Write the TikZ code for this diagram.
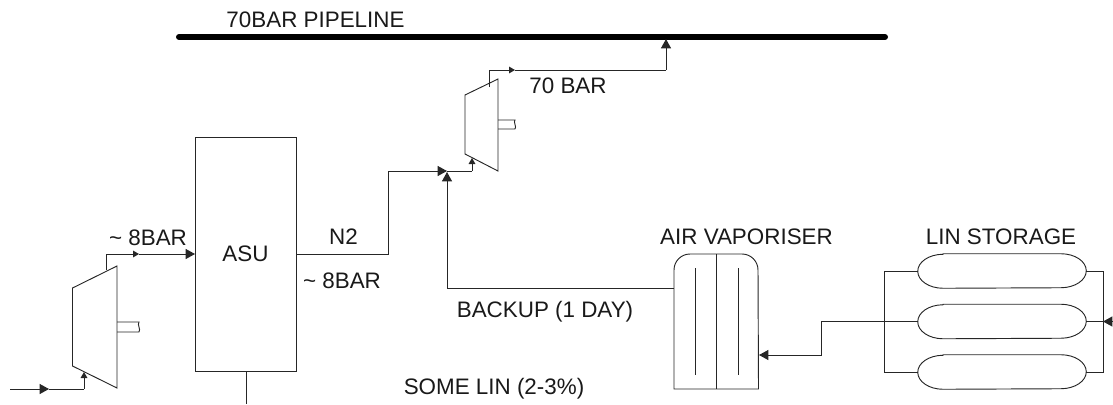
\documentclass[tikz,border=0pt]{standalone}
\usepackage{fontspec}
\setmainfont{Liberation Sans}
\usetikzlibrary{arrows.meta}
\tikzset{
  x=0.75pt,y=-0.75pt,
  pipe/.style={line width=0.7pt,draw=black!85},
  big/.style={pipe,-{Triangle[length=7pt,width=7.5pt]}},
  small/.style={pipe,-{Triangle[length=4.5pt,width=5pt]}},
  lbl/.style={inner sep=0pt,font=\fontsize{16.8pt}{18pt}\selectfont,text=black!90},
  box/.style={draw=black!85,line width=0.7pt,inner sep=0pt},
  tank/.style={inner sep=0pt,minimum width=126pt,minimum height=25.5pt},
  main/.style={line width=4.5pt,line cap=round}
}
\newcommand{\pilldraw}[1]{%
  \draw[pipe] ([xshift=19pt]#1.north west) -- ([xshift=-19pt]#1.north east)
    arc[start angle=90,end angle=-90,x radius=19pt,y radius=12.75pt]
    -- ([xshift=19pt]#1.south west)
    arc[start angle=270,end angle=90,x radius=19pt,y radius=12.75pt] -- cycle;}
\begin{document}
\begin{tikzpicture}
\useasboundingbox (0,0) rectangle (1113,404);
% pipeline
\coordinate (pL) at (179,37);
\coordinate (pR) at (885,37);
\draw[main] (pL) -- (pR);
% ASU
\node[box,minimum width=75.75pt,minimum height=175.5pt] (asu) at (245.5,254) {};
\node[lbl] (asuT) at (245.5,254) {ASU};
\coordinate (asuOut) at (296,254);
\coordinate (asuIn) at (195,254);
\coordinate (asuB) at (246,371);
\coordinate (asuBend) at (246,404);
\draw[pipe] (asuB) -- (asuBend);
% compressor 1
\draw[pipe,fill=white] (72.5,288) coordinate (c1tl) -- (117,266) coordinate (c1tr) -- (117,388) coordinate (c1br) -- (72.5,366) coordinate (c1bl) -- cycle;
\draw[pipe] (117,322) -- (139,322) .. controls (137,325) and (141,329) .. (139,332) -- (117,332);
\coordinate (c1a) at (10,389);
\coordinate (c1b) at (49,389);
\coordinate (c1c) at (84,389);
\coordinate (c1in) at (84,372);
\draw[big] (c1a) -- (c1b);
\draw[pipe] (c1b) -- (c1c);
\draw[small] (c1c) -- (c1in);
\coordinate (c1o) at (106,270);
\coordinate (c1u) at (106,254);
\coordinate (c1m) at (139,254);
\draw[pipe] (c1o) -- (c1u);
\draw[small] (c1u) -- (c1m);
\draw[big] (c1m) -- (asuIn);
% N2 line
\coordinate (n1) at (388,254);
\coordinate (n2) at (388,171);
\coordinate (j) at (447,171);
\coordinate (n3) at (472,171);
\coordinate (c2in) at (472,158);
\draw[pipe] (asuOut) -- (n1) -- (n2);
\draw[big] (n2) -- (j);
\draw[pipe] (j) -- (n3);
\draw[small] (n3) -- (c2in);
% compressor 2
\draw[pipe,fill=white] (465,95) -- (498,79) -- (498,171) -- (465,154) -- cycle;
\draw[pipe] (498,120) -- (515,120) .. controls (513,122) and (517,127) .. (515,129) -- (498,129);
\coordinate (c2o) at (489,87);
\coordinate (c2u) at (489,70);
\coordinate (c2m) at (515,70);
\coordinate (c2r) at (666,70);
\coordinate (c2p) at (666,39);
\draw[pipe] (c2o) -- (c2u);
\draw[small] (c2u) -- (c2m);
\draw[pipe] (c2m) -- (c2r);
\draw[big] (c2r) -- (c2p);
% air vaporiser
\draw[pipe] (674,389) -- (674,270) arc[start angle=180,end angle=90,radius=12pt] -- (742,254) arc[start angle=90,end angle=0,radius=12pt] -- (758.5,389) -- cycle;
\coordinate (vT) at (716,254);
\coordinate (vB) at (716,389);
\coordinate (v1T) at (695,268);
\coordinate (v1B) at (695,375);
\coordinate (v2T) at (738,268);
\coordinate (v2B) at (738,375);
\draw[pipe] (vT) -- (vB);
\draw[pipe] (v1T) -- (v1B);
\draw[pipe] (v2T) -- (v2B);
% backup
\coordinate (vL) at (674,288);
\coordinate (bk) at (447,288);
\coordinate (bkt) at (447,172);
\draw[big] (vL) -- (bk) -- (bkt);
% tanks
\node[tank] (t1) at (1002,271) {};
\node[tank] (t2) at (1002,321.5) {};
\node[tank] (t3) at (1002,372) {};
\pilldraw{t1}\pilldraw{t2}\pilldraw{t3}
\coordinate (bl1) at (884,271);
\coordinate (bl3) at (884,372);
\coordinate (br1) at (1103,271);
\coordinate (br3) at (1103,372);
\draw[pipe] (t1.west) -- (bl1) -- (bl3) -- (t3.west);
\draw[pipe] (t1.east) -- (br1) -- (br3) -- (t3.east);
\coordinate (br2) at (1103,321.5);
\coordinate (feed) at (1113,321.5);
\draw[pipe] (t2.east) -- (br2);
\draw[big] (feed) -- (br2);
\coordinate (d1) at (821,321.5);
\coordinate (d2) at (821,355);
\coordinate (vIn) at (759,355);
\draw[big] (t2.west) -- (d1) -- (d2) -- (vIn);
% labels
\node[lbl] (l1) at (315.5,20) {70BAR PIPELINE};
\node[lbl] (l2) at (148,238) {\char"7E\ 8BAR};
\node[lbl] (l3) at (343.5,237) {N2};
\node[lbl] (l4) at (342,281) {\char"7E\ 8BAR};
\node[lbl] (l5) at (568,86) {70 BAR};
\node[lbl] (l6) at (545,312) {BACKUP (1 DAY)};
\node[lbl] (l7) at (746.5,237) {AIR VAPORISER};
\node[lbl] (l8) at (1001,237) {LIN STORAGE};
\node[lbl] (l9) at (494,389) {SOME LIN (2-3\%)};
\end{tikzpicture}
\end{document}
